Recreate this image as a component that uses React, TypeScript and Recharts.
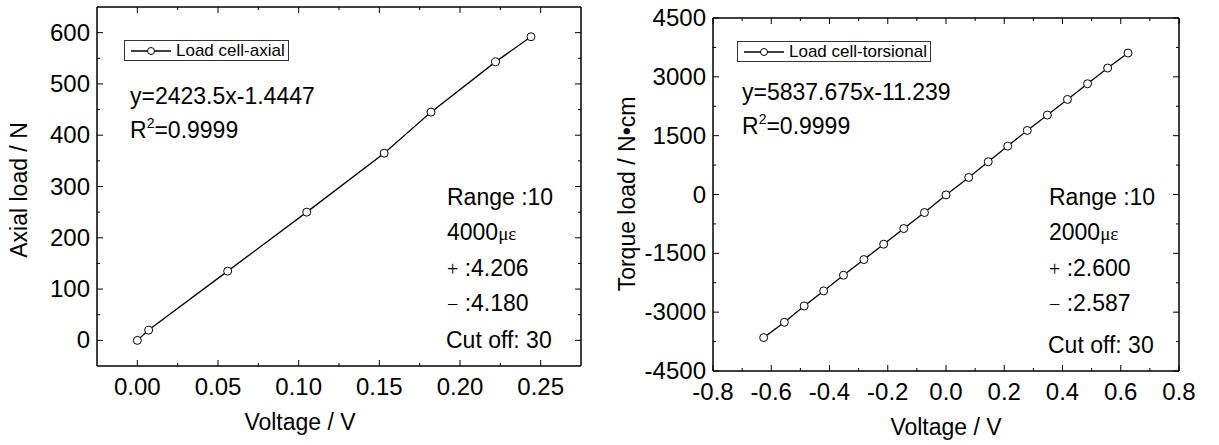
import React from "react";
import { LineChart, Line, XAxis, YAxis, Legend, Customized } from "recharts";

const FONT = '"Liberation Sans", Arial, sans-serif';
const SERIF = '"Liberation Serif", "Times New Roman", serif';

// left panel: axial load cell calibration
const axialVolt = [0, 0.007, 0.056, 0.105, 0.153, 0.182, 0.222, 0.244];
const axialLoad = [0, 20, 135, 250, 365, 445, 543, 592];
const axialXTicks = [0, 0.025, 0.05, 0.075, 0.1, 0.125, 0.15, 0.175, 0.2, 0.225, 0.25];
const axialYTicks = [0, 50, 100, 150, 200, 250, 300, 350, 400, 450, 500, 550, 600];

// right panel: torsional load cell calibration
const torsVolt = [-0.626, -0.555, -0.487, -0.42, -0.352, -0.282, -0.214, -0.145, -0.074, 0, 0.078, 0.145, 0.212, 0.279, 0.348, 0.417, 0.486, 0.555, 0.625];
const torsLoad = [-3649, -3258, -2841, -2458, -2058, -1659, -1267, -868, -459, -10, 434, 834, 1234, 1633, 2025, 2424, 2824, 3224, 3607];
const torsXTicks = [-0.8, -0.7, -0.6, -0.5, -0.4, -0.3, -0.2, -0.1, 0, 0.1, 0.2, 0.3, 0.4, 0.5, 0.6, 0.7, 0.8];
const torsYTicks = [-4500, -3750, -3000, -2250, -1500, -750, 0, 750, 1500, 2250, 3000, 3750, 4500];

const isMajor = (v: number, step: number) => Math.abs(v / step - Math.round(v / step)) < 1e-6;

// ticks point inwards; minor ticks get no label
const makeTick = (side: "bottom" | "left" | "top" | "right", step: number, fmt?: (v: number) => string) =>
  (props: any) => {
    const { x, y, payload } = props;
    const v = payload.value as number;
    const major = isMajor(v, step);
    const len = major ? 6 : 3;
    let line;
    if (side === "bottom") line = <line x1={x} x2={x} y1={y} y2={y - len} stroke="#000" />;
    else if (side === "top") line = <line x1={x} x2={x} y1={y} y2={y + len} stroke="#000" />;
    else if (side === "left") line = <line x1={x} x2={x + len} y1={y} y2={y} stroke="#000" />;
    else line = <line x1={x} x2={x - len} y1={y} y2={y} stroke="#000" />;
    let label = null;
    if (major && fmt && side === "bottom")
      label = <text x={x} y={y + 29} textAnchor="middle" fontSize={24} fontFamily={FONT} fill="#000">{fmt(v)}</text>;
    if (major && fmt && side === "left")
      label = <text x={x - 7} y={y + 8} textAnchor="end" fontSize={24} fontFamily={FONT} fill="#000">{fmt(v)}</text>;
    return <g>{line}{label}</g>;
  };

const LegendBox = ({ name }: { name: string }) => (
  <div style={{ display: "inline-flex", alignItems: "center", border: "1px solid #333", background: "#fff",
    height: 19, padding: "0 3px 0 6px", fontFamily: FONT, fontSize: 17, color: "#000", whiteSpace: "nowrap" }}>
    <svg width={40} height={12} style={{ marginRight: 5 }}>
      <line x1={0} x2={40} y1={6} y2={6} stroke="#000" strokeWidth={1.3} />
      <circle cx={20} cy={6} r={3.5} fill="#fff" stroke="#000" />
    </svg>
    {name}
  </div>
);

const txt = { fontSize: 23, fontFamily: FONT, fill: "#000" };

const Notes = ({ x, eq, strain, plus, minus, cutY }: any) => (
  <g>
    <text x={x.eq} y={eq} {...txt}>{x.eqText}</text>
    <text x={x.eq} y={eq + 34} {...txt}>R<tspan dy={-10} fontSize={14}>2</tspan><tspan dy={10}>=0.9999</tspan></text>
    <text x={x.r} y={205} {...txt}>Range :10</text>
    <text x={x.r} y={240} {...txt}>{strain}<tspan fontFamily={SERIF} fontSize={19}>με</tspan></text>
    <text x={x.r} y={276} {...txt}><tspan fontFamily={SERIF} fontSize={20}>+</tspan> :{plus}</text>
    <text x={x.r} y={311} {...txt}><tspan fontFamily={SERIF} fontSize={20}>−</tspan> :{minus}</text>
    <text x={x.r - 1} y={cutY} {...txt}>Cut off: 30</text>
  </g>
);

export default function App() {
  const axialData = axialVolt.map((v, i) => ({ v, y: axialLoad[i] }));
  const torsData = torsVolt.map((v, i) => ({ v, y: torsLoad[i] }));
  const frame = { stroke: "#000", strokeWidth: 1.5 };
  const common = { tickSize: 0, tickMargin: 0, tickLine: false, axisLine: frame, allowDataOverflow: true, interval: 0 as const };
  const dot = { r: 4, fill: "#fff", stroke: "#000", strokeWidth: 1 };

  return (
    <div style={{ position: "absolute", left: 0, top: 0, width: 1219, height: 445, background: "#fff" }}>
      <div style={{ position: "absolute", left: 0, top: 0 }}>
        <LineChart width={600} height={445} data={axialData} margin={{ top: 6, left: 96, right: 18, bottom: 78 }}>
          <XAxis xAxisId="b" dataKey="v" type="number" domain={[-0.025, 0.275]} ticks={axialXTicks} height={1} {...common}
            tick={makeTick("bottom", 0.05, v => v.toFixed(2))} />
          <XAxis xAxisId="t" orientation="top" dataKey="v" type="number" domain={[-0.025, 0.275]} ticks={axialXTicks} height={1} {...common}
            tick={makeTick("top", 0.05)} />
          <YAxis yAxisId="l" type="number" domain={[-50, 650]} ticks={axialYTicks} width={1} {...common}
            tick={makeTick("left", 100, v => String(v))} />
          <YAxis yAxisId="r" orientation="right" type="number" domain={[-50, 650]} ticks={axialYTicks} width={1} {...common}
            tick={makeTick("right", 100)} />
          <Line xAxisId="b" yAxisId="l" dataKey="y" name="Load cell-axial" stroke="#000" strokeWidth={1.3}
            dot={dot} isAnimationActive={false} />
          <Line xAxisId="t" yAxisId="r" dataKey="y" stroke="none" dot={false} legendType="none" isAnimationActive={false} />
          <Legend layout="horizontal" verticalAlign="middle" align="center"
            wrapperStyle={{ left: 124, top: 40, width: "auto", height: "auto" }}
            content={() => <LegendBox name="Load cell-axial" />} />
          <Customized component={() => (
            <g>
              <Notes x={{ eq: 130, eqText: "y=2423.5x-1.4447", r: 447 }} eq={104} strain="4000" plus="4.206" minus="4.180" cutY={348} />
              <text x={300} y={430} textAnchor="middle" {...txt}>Voltage / V</text>
              <text transform="translate(27,190) rotate(-90)" textAnchor="middle" {...txt}>Axial load / N</text>
            </g>
          )} />
        </LineChart>
      </div>
      <div style={{ position: "absolute", left: 600, top: 0 }}>
        <LineChart width={619} height={445} data={torsData} margin={{ top: 17, left: 112, right: 39, bottom: 73 }}>
          <XAxis xAxisId="b" dataKey="v" type="number" domain={[-0.8, 0.8]} ticks={torsXTicks} height={1} {...common}
            tick={makeTick("bottom", 0.2, v => v.toFixed(1))} />
          <XAxis xAxisId="t" orientation="top" dataKey="v" type="number" domain={[-0.8, 0.8]} ticks={torsXTicks} height={1} {...common}
            tick={makeTick("top", 0.2)} />
          <YAxis yAxisId="l" type="number" domain={[-4500, 4500]} ticks={torsYTicks} width={1} {...common}
            tick={makeTick("left", 1500, v => String(v))} />
          <YAxis yAxisId="r" orientation="right" type="number" domain={[-4500, 4500]} ticks={torsYTicks} width={1} {...common}
            tick={makeTick("right", 1500)} />
          <Line xAxisId="b" yAxisId="l" dataKey="y" name="Load cell-torsional" stroke="#000" strokeWidth={1.3}
            dot={dot} isAnimationActive={false} />
          <Line xAxisId="t" yAxisId="r" dataKey="y" stroke="none" dot={false} legendType="none" isAnimationActive={false} />
          <Legend layout="horizontal" verticalAlign="middle" align="center"
            wrapperStyle={{ left: 137, top: 41, width: "auto", height: "auto" }}
            content={() => <LegendBox name="Load cell-torsional" />} />
          <Customized component={() => (
            <g>
              <Notes x={{ eq: 142, eqText: "y=5837.675x-11.239", r: 449 }} eq={100} strain="2000" plus="2.600" minus="2.587" cutY={353} />
              <text x={346} y={435} textAnchor="middle" {...txt}>Voltage / V</text>
              <text transform="translate(35,194) rotate(-90)" textAnchor="middle" {...txt}>Torque load / N•cm</text>
            </g>
          )} />
        </LineChart>
      </div>
    </div>
  );
}
